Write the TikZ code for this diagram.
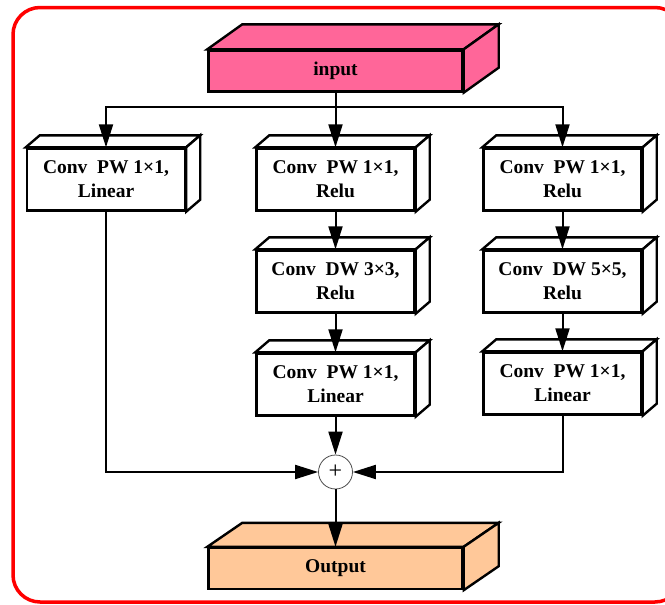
\documentclass[tikz,border=0pt]{standalone}
\usepackage{fontspec}
\setmainfont{Liberation Serif}
\usetikzlibrary{arrows.meta,calc}
\definecolor{inpink}{RGB}{255,102,153}
\definecolor{outpeach}{RGB}{255,200,153}
\definecolor{frame}{RGB}{255,0,0}
\newcommand{\extrude}[4]{%
  \draw[boxline,fill=#4] (#1.north west) -- ++(#2,-#3) -- ($(#1.north east)+(#2,-#3)$) -- (#1.north east) -- cycle;
  \draw[boxline,fill=#4] (#1.north east) -- ++(#2,-#3) -- ($(#1.south east)+(#2,-#3)$) -- (#1.south east) -- cycle;
}
\tikzset{
  boxline/.style={draw=black,line width=2.4pt,line join=miter},
  blk/.style={boxline,fill=white,minimum width=158pt,minimum height=62pt,inner sep=0pt,align=center,
    font=\fontsize{19.5}{24}\selectfont\bfseries},
  wide/.style={blk,minimum width=254pt,minimum height=41pt},
  conn/.style={line width=2pt},
  arr/.style={conn,-{Triangle[length=23pt,width=14pt]}},
  sumnode/.style={circle,draw=black!70,line width=0.8pt,fill=white,minimum size=34pt,inner sep=0pt,
    font=\fontsize{24}{24}\selectfont},
}
\begin{document}
\begin{tikzpicture}[x=1pt,y=-1pt]
\useasboundingbox (0,0) rectangle (665,605);
\draw[frame,line width=3.5pt,rounded corners=27pt] (13,7.5) rectangle (682,602);

% nodes
\node[wide,fill=inpink] (input) at (335.5,71) {input};
\node[wide,fill=outpeach] (output) at (335.5,568.5) {Output};

\node[blk] (L1) at (106,179.5) {Conv\ \ PW 1×1,\\Linear};
\node[blk] (M1) at (335.5,179.5) {Conv\ \ PW 1×1,\\Relu};
\node[blk] (M2) at (335.5,281.5) {Conv\ \ DW 3×3,\\Relu};
\node[blk] (M3) at (335.5,384.5) {Conv\ \ PW 1×1,\\Linear};
\node[blk] (R1) at (562.5,179.5) {Conv\ \ PW 1×1,\\Relu};
\node[blk] (R2) at (562.5,281.5) {Conv\ \ DW 5×5,\\Relu};
\node[blk] (R3) at (562.5,383.5) {Conv\ \ PW 1×1,\\Linear};

\extrude{input}{35}{25}{inpink}
\extrude{output}{35}{24}{outpeach}
\extrude{L1}{14}{12}{white}
\extrude{M1}{14}{12}{white}
\extrude{M2}{14}{12}{white}
\extrude{M3}{14}{12}{white}
\extrude{R1}{14}{12}{white}
\extrude{R2}{14}{12}{white}
\extrude{R3}{14}{12}{white}

\node[sumnode] (sum) at (335.5,472) {+};

% connectors
\coordinate (split) at (335.5,107);
\draw[conn] (input.south) -- (split);
\draw[arr] (split) -| (L1.north);
\draw[arr] (split) -| (R1.north);
\draw[arr] (split) -- (M1.north);
\draw[arr] (M1.south) -- (M2.north);
\draw[arr] (M2.south) -- (M3.north);
\draw[arr] (R1.south) -- (R2.north);
\draw[arr] (R2.south) -- (R3.north);
\draw[arr] (M3.south) -- (sum.north);
\draw[arr] (L1.south) |- (sum.west);
\draw[arr] (R3.south) |- (sum.east);
\draw[arr] (sum.south) -- (output.north);
\end{tikzpicture}
\end{document}
